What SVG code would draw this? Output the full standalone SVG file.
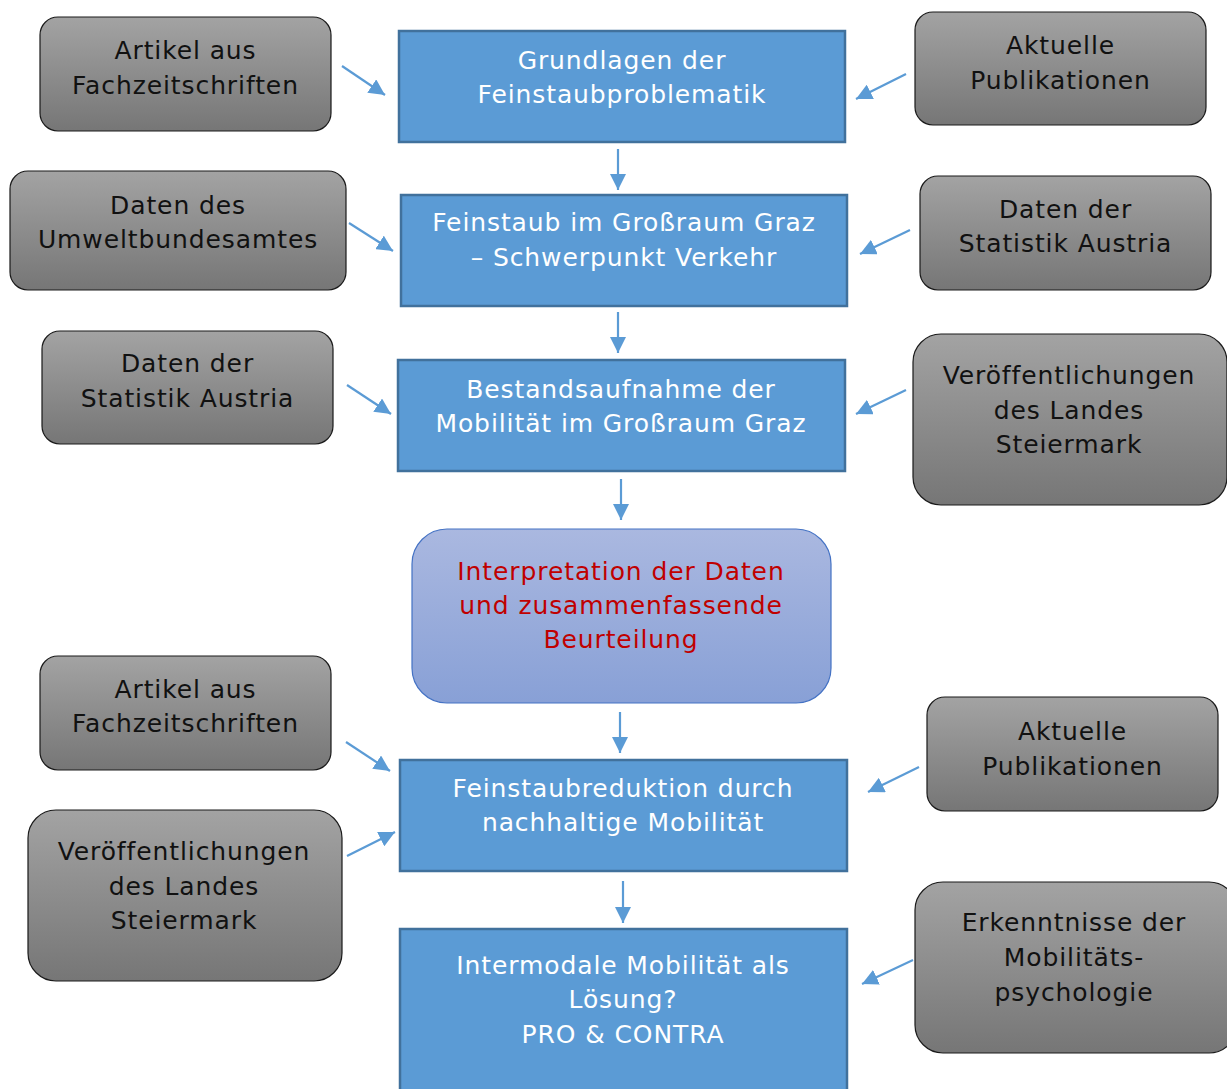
<svg xmlns="http://www.w3.org/2000/svg" width="1227" height="1089" viewBox="0 0 1227 1089">
<defs>
<linearGradient id="gGray" x1="0" y1="0" x2="0" y2="1">
<stop offset="0" stop-color="#a3a3a3"/>
<stop offset="1" stop-color="#767676"/>
</linearGradient>
<linearGradient id="gPurple" x1="0" y1="0" x2="0" y2="1">
<stop offset="0" stop-color="#aab8e0"/>
<stop offset="1" stop-color="#88a0d6"/>
</linearGradient>
<marker id="ah" markerUnits="userSpaceOnUse" markerWidth="18" markerHeight="16" viewBox="0 0 18 16" refX="16" refY="8" orient="auto">
<path d="M0,0 L16,8 L0,16 z" fill="#5b9bd5"/>
</marker>
<style>
.gray rect{fill:url(#gGray);stroke:#1a1a1a;stroke-width:1.2}
.blue rect{fill:#5b9bd5;stroke:#41719c;stroke-width:2.5}
.purple rect{fill:url(#gPurple);stroke:#4472c4;stroke-width:1.2}
text{font-family:"DejaVu Sans","Verdana",sans-serif;font-size:25px;letter-spacing:0.9px;text-anchor:middle}
.gray text{fill:#111}
.blue text{fill:#ffffff}
.purple text{fill:#c00000}
#connectors line{stroke:#5b9bd5;stroke-width:2.2;marker-end:url(#ah)}
</style>
</defs>
<rect width="1227" height="1089" fill="#ffffff"/>

<g id="g1" class="gray"><rect x="40" y="17" width="291" height="114" rx="18"/><text x="185.5" y="59">Artikel aus</text><text x="185.5" y="94">Fachzeitschriften</text></g>
<g id="g2" class="gray"><rect x="915" y="12" width="291" height="113" rx="18"/><text x="1060.5" y="54">Aktuelle</text><text x="1060.5" y="89">Publikationen</text></g>
<g id="g3" class="gray"><rect x="10" y="171" width="336" height="119" rx="18"/><text x="178" y="214">Daten des</text><text x="178" y="248">Umweltbundesamtes</text></g>
<g id="g4" class="gray"><rect x="920" y="176" width="291" height="114" rx="18"/><text x="1065.5" y="218">Daten der</text><text x="1065.5" y="252">Statistik Austria</text></g>
<g id="g5" class="gray"><rect x="42" y="331" width="291" height="113" rx="18"/><text x="187.5" y="372">Daten der</text><text x="187.5" y="407">Statistik Austria</text></g>
<g id="g6" class="gray"><rect x="913" y="334" width="314" height="171" rx="28"/><text x="1069" y="384">Veröffentlichungen</text><text x="1069" y="419">des Landes</text><text x="1069" y="453">Steiermark</text></g>
<g id="g7" class="gray"><rect x="40" y="656" width="291" height="114" rx="18"/><text x="185.5" y="698">Artikel aus</text><text x="185.5" y="732">Fachzeitschriften</text></g>
<g id="g8" class="gray"><rect x="927" y="697" width="291" height="114" rx="18"/><text x="1072.5" y="740">Aktuelle</text><text x="1072.5" y="775">Publikationen</text></g>
<g id="g9" class="gray"><rect x="28" y="810" width="314" height="171" rx="28"/><text x="184" y="860">Veröffentlichungen</text><text x="184" y="895">des Landes</text><text x="184" y="929">Steiermark</text></g>
<g id="g10" class="gray"><rect x="915" y="882" width="322" height="171" rx="28"/><text x="1074" y="931">Erkenntnisse der</text><text x="1074" y="966">Mobilitäts-</text><text x="1074" y="1001">psychologie</text></g>

<g id="bA" class="blue"><rect x="399" y="31" width="446" height="111"/><text x="622" y="69">Grundlagen der</text><text x="622" y="103">Feinstaubproblematik</text></g>
<g id="bB" class="blue"><rect x="401" y="195" width="446" height="111"/><text x="624" y="231">Feinstaub im Großraum Graz</text><text x="624" y="266">– Schwerpunkt Verkehr</text></g>
<g id="bC" class="blue"><rect x="398" y="360" width="447" height="111"/><text x="621" y="398">Bestandsaufnahme der</text><text x="621" y="432">Mobilität im Großraum Graz</text></g>
<g id="pD" class="purple"><rect x="412" y="529" width="419" height="174" rx="35"/><text x="621" y="580">Interpretation der Daten</text><text x="621" y="614">und zusammenfassende</text><text x="621" y="648">Beurteilung</text></g>
<g id="bE" class="blue"><rect x="400" y="760" width="447" height="111"/><text x="623" y="797">Feinstaubreduktion durch</text><text x="623" y="831">nachhaltige Mobilität</text></g>
<g id="bF" class="blue"><rect x="400" y="929" width="447" height="170"/><text x="623" y="974">Intermodale Mobilität als</text><text x="623" y="1008">Lösung?</text><text x="623" y="1043">PRO &amp; CONTRA</text></g>

<g id="connectors">
<line x1="618" y1="149" x2="618" y2="190"/>
<line x1="618" y1="312" x2="618" y2="353"/>
<line x1="621" y1="479" x2="621" y2="520"/>
<line x1="620" y1="712" x2="620" y2="753"/>
<line x1="623" y1="881" x2="623" y2="923"/>
<line x1="342" y1="66" x2="385" y2="95"/>
<line x1="906" y1="74" x2="856" y2="99"/>
<line x1="349" y1="223" x2="393" y2="251"/>
<line x1="910" y1="230" x2="860" y2="254"/>
<line x1="347" y1="385" x2="391" y2="414"/>
<line x1="906" y1="390" x2="856" y2="414"/>
<line x1="346" y1="742" x2="390" y2="771"/>
<line x1="347" y1="856" x2="395" y2="832"/>
<line x1="919" y1="767" x2="868" y2="792"/>
<line x1="913" y1="960" x2="862" y2="984"/>
</g>
</svg>
